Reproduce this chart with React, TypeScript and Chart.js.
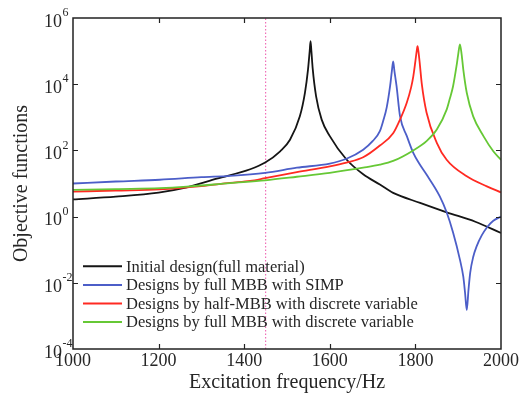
import React, { useEffect, useRef } from 'react';
import { Chart, registerables } from 'chart.js';

Chart.register(...registerables);

// ---------- data ----------
const xTicks = [1000, 1200, 1400, 1600, 1800, 2000];
const yTickExps = [-4, -2, 0, 2, 4, 6];
const markerFreq = 1450;

const seriesLabels = [
  'Initial design(full material)',
  'Designs by full MBB with SIMP',
  'Designs by half-MBB with discrete variable',
  'Designs by full MBB with discrete variable',
];
const seriesColors = ['#151515', '#4c5ec8', '#ff2a22', '#66c835'];

const blackFreq = [1000, 1100, 1200, 1266, 1336, 1414, 1449, 1484, 1507, 1530, 1542, 1549, 1553, 1555, 1557, 1560, 1568, 1581, 1600, 1639, 1678, 1717, 1748, 1811, 1873, 1940, 2000];
const blackVal = [3.3, 4.0, 5.3, 7.6, 14, 27, 43, 94, 210, 1070, 5600, 27000, 100000, 200000, 100000, 30000, 4300, 850, 270, 53, 19, 9.3, 5.2, 2.6, 1.35, 0.7, 0.32];

const blueFreq = [1000, 1100, 1203, 1300, 1367, 1449, 1523, 1600, 1639, 1678, 1700, 1717, 1725, 1733, 1741, 1745, 1748, 1751, 1756, 1764, 1780, 1795, 1810, 1826, 1857, 1873, 1888, 1904, 1912, 1916, 1920, 1924, 1928, 1935, 1943, 1955, 1967, 1982, 2000];
const blueVal = [10, 11.5, 13, 15.5, 17, 21, 30, 40, 56, 105, 190, 380, 800, 2000, 9000, 25000, 49000, 25000, 8700, 1100, 270, 84, 38, 18.6, 4.1, 1.35, 0.33, 0.05, 0.015, 0.005, 0.0015, 0.006, 0.02, 0.06, 0.126, 0.27, 0.47, 0.75, 1.0];

const redFreq = [1000, 1100, 1203, 1300, 1367, 1414, 1449, 1523, 1600, 1639, 1678, 1717, 1748, 1764, 1780, 1790, 1795, 1800, 1803, 1805, 1807, 1810, 1815, 1826, 1850, 1873, 1920, 1967, 2000];
const redVal = [5.7, 6.1, 6.6, 8.3, 10.5, 12, 14.5, 22, 33, 43, 62, 140, 330, 850, 2800, 8000, 17000, 50000, 100000, 140000, 100000, 45000, 10000, 1400, 170, 52, 16.5, 8.2, 5.4];

const greenFreq = [1000, 1100, 1203, 1266, 1367, 1449, 1523, 1600, 1678, 1717, 1748, 1795, 1826, 1850, 1873, 1880, 1888, 1896, 1900, 1904, 1908, 1912, 1920, 1935, 1959, 1982, 2000];
const greenVal = [6.4, 6.8, 7.2, 8.0, 10.3, 12.5, 16, 21, 30, 37, 48, 100, 190, 425, 1700, 3500, 8700, 35000, 80000, 160000, 80000, 27000, 5500, 1070, 270, 94, 52];

const FONT = '"Liberation Serif", "Times New Roman", serif';
const TEXT = '#262626';

const toPoints = (fs: number[], vs: number[]) => fs.map((f, i) => ({ x: f, y: vs[i] }));

const framePlugin = {
  id: 'frame',
  afterDatasetsDraw(chart: any) {
    const { ctx, chartArea: a, scales } = chart;
    ctx.save();
    ctx.strokeStyle = '#222';
    ctx.lineWidth = 1.5;
    ctx.strokeRect(a.left, a.top, a.right - a.left, a.bottom - a.top);
    ctx.lineWidth = 1.2;
    const L = 5;
    ctx.beginPath();
    xTicks.forEach((v) => {
      if (v === xTicks[0] || v === xTicks[xTicks.length - 1]) return;
      const px = Math.round(scales.x.getPixelForValue(v)) + 0.5;
      ctx.moveTo(px, a.bottom);
      ctx.lineTo(px, a.bottom - L);
      ctx.moveTo(px, a.top);
      ctx.lineTo(px, a.top + L);
    });
    yTickExps.forEach((e, i) => {
      if (i === 0 || i === yTickExps.length - 1) return;
      const py = Math.round(scales.y.getPixelForValue(Math.pow(10, e))) + 0.5;
      ctx.moveTo(a.left, py);
      ctx.lineTo(a.left + L, py);
      ctx.moveTo(a.right, py);
      ctx.lineTo(a.right - L, py);
    });
    ctx.stroke();

    // legend (inside plot, lower left)
    const x0 = 83, x1 = 122, tx = 126, y0 = 266.3, step = 18.6;
    ctx.font = `16.5px ${FONT}`;
    ctx.textBaseline = 'middle';
    ctx.textAlign = 'left';
    seriesLabels.forEach((lab, i) => {
      const y = y0 + i * step;
      ctx.strokeStyle = seriesColors[i];
      ctx.lineWidth = 2;
      ctx.beginPath();
      ctx.moveTo(x0, y);
      ctx.lineTo(x1, y);
      ctx.stroke();
      ctx.fillStyle = TEXT;
      ctx.fillText(lab, tx, y + 1);
    });
    ctx.restore();
  },
  afterDraw(chart: any) {
    const { ctx, scales } = chart;
    ctx.save();
    ctx.fillStyle = TEXT;
    yTickExps.forEach((e) => {
      const py = scales.y.getPixelForValue(Math.pow(10, e));
      ctx.font = `18px ${FONT}`;
      ctx.textAlign = 'right';
      ctx.textBaseline = 'middle';
      ctx.fillText('10', 62, py + 4);
      ctx.font = `12px ${FONT}`;
      ctx.textAlign = 'left';
      ctx.fillText(String(e), 62.5, py - 5);
    });
    ctx.restore();
  },
};

export default function App() {
  const ref = useRef<HTMLCanvasElement>(null);
  useEffect(() => {
    document.body.style.margin = '0';
    const canvas = ref.current;
    if (!canvas) return;
    const chart = new Chart(canvas, {
      type: 'line',
      data: {
        datasets: [
          {
            label: 'marker',
            data: [{ x: markerFreq, y: 1e-4 }, { x: markerFreq, y: 1e6 }],
            borderColor: '#f070b8',
            borderWidth: 1.2,
            borderDash: [1.5, 2],
            pointRadius: 0,
            order: 10,
          },
          ...[
            [blackFreq, blackVal],
            [blueFreq, blueVal],
            [redFreq, redVal],
            [greenFreq, greenVal],
          ].map(([fs, vs], i) => ({
            label: seriesLabels[i],
            data: toPoints(fs, vs),
            borderColor: seriesColors[i],
            backgroundColor: seriesColors[i],
            borderWidth: 1.8,
            pointRadius: 0,
            cubicInterpolationMode: 'monotone' as const,
            order: 4 - i,
          })),
        ],
      },
      options: {
        responsive: false,
        animation: false,
        events: [],
        layout: { padding: { top: 18, right: 18, left: 0, bottom: 0 } },
        plugins: {
          legend: { display: false },
          tooltip: { enabled: false },
        },
        scales: {
          x: {
            type: 'linear',
            min: 1000,
            max: 2000,
            afterBuildTicks: (s: any) => {
              s.ticks = xTicks.map((v) => ({ value: v }));
            },
            afterFit: (s: any) => {
              s.height = 54;
              s.paddingLeft = 0;
              s.paddingRight = 0;
            },
            grid: { display: false, drawTicks: false },
            border: { display: false },
            ticks: {
              font: { family: FONT, size: 18 },
              color: TEXT,
              padding: 1,
              maxRotation: 0,
              autoSkip: false,
              callback: (v: any) => String(v),
            },
            title: {
              display: true,
              text: 'Excitation frequency/Hz',
              font: { family: FONT, size: 20 },
              color: TEXT,
              padding: { top: 0, bottom: 8 },
            },
          },
          y: {
            type: 'logarithmic',
            min: 1e-4,
            max: 1e6,
            afterBuildTicks: (s: any) => {
              s.ticks = yTickExps.map((e) => ({ value: Math.pow(10, e) }));
            },
            afterFit: (s: any) => {
              s.width = 73;
              s.paddingTop = 0;
              s.paddingBottom = 0;
            },
            grid: { display: false, drawTicks: false },
            border: { display: false },
            ticks: { display: false },
            title: {
              display: true,
              text: 'Objective functions',
              font: { family: FONT, size: 20 },
              color: TEXT,
              padding: { top: 10, bottom: 0 },
            },
          },
        },
      },
      plugins: [framePlugin],
    });
    return () => chart.destroy();
  }, []);
  return <canvas ref={ref} width={519} height={403} style={{ display: 'block' }} />;
}
